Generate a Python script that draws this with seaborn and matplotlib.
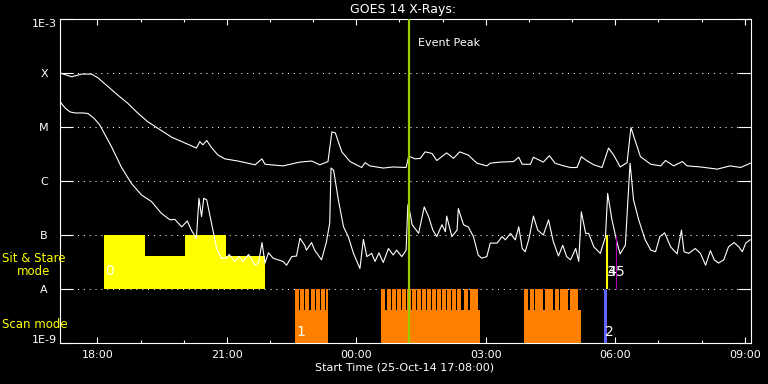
import numpy as np
import pandas as pd
import matplotlib
matplotlib.use("Agg")
import matplotlib.pyplot as plt
import seaborn as sns
from matplotlib.ticker import NullLocator

# ---------------- data (time = hours since 25-Oct-14 17:08:00) ----------------
long_t = [0.00, 0.27, 0.50, 0.73, 0.88, 1.11, 1.34, 1.57, 1.80, 2.03, 2.26, 2.59, 2.82,
          3.05, 3.16, 3.24, 3.31, 3.40, 3.51, 3.66, 3.82, 4.12, 4.52, 4.68, 4.75, 5.17,
          5.56, 5.83, 6.02, 6.21, 6.30, 6.38, 6.53, 6.72, 6.99, 7.07, 7.18, 7.49, 7.72,
          8.02, 8.08, 8.23, 8.35, 8.46, 8.62, 8.73, 8.96, 9.12, 9.26, 9.46, 9.66, 9.89,
          9.97, 10.20, 10.51, 10.63, 10.71, 10.90, 10.97, 11.20, 11.34, 11.47, 11.67,
          11.83, 11.98, 12.08, 12.22, 12.37, 12.56, 12.71, 12.83, 12.98, 13.14, 13.23,
          13.31, 13.45, 13.69, 13.92, 14.03, 14.22, 14.42, 14.53, 14.84, 15.23, 15.53,
          15.77, 16.00]
long_log10 = [-4.00, -4.07, -4.02, -4.02, -4.09, -4.25, -4.41, -4.56, -4.74, -4.90, -5.02,
              -5.19, -5.27, -5.35, -5.39, -5.27, -5.33, -5.25, -5.38, -5.52, -5.59, -5.63,
              -5.70, -5.59, -5.69, -5.72, -5.65, -5.63, -5.70, -5.64, -5.09, -5.11, -5.46,
              -5.64, -5.75, -5.66, -5.72, -5.76, -5.74, -5.75, -5.54, -5.59, -5.58, -5.46,
              -5.49, -5.62, -5.48, -5.58, -5.46, -5.52, -5.67, -5.72, -5.67, -5.65, -5.64,
              -5.56, -5.69, -5.69, -5.56, -5.65, -5.53, -5.67, -5.72, -5.75, -5.75, -5.55,
              -5.63, -5.70, -5.75, -5.39, -5.52, -5.74, -5.66, -5.01, -5.21, -5.55, -5.69,
              -5.72, -5.62, -5.72, -5.64, -5.72, -5.74, -5.78, -5.72, -5.75, -5.67]

short_t = [0.00, 0.12, 0.23, 0.35, 0.53, 0.65, 0.79, 0.92, 1.19, 1.42, 1.65, 1.89, 2.12,
           2.35, 2.55, 2.66, 2.82, 2.95, 3.05, 3.16, 3.22, 3.28, 3.33, 3.40, 3.51, 3.63,
           3.74, 3.86, 3.92, 4.05, 4.15, 4.24, 4.37, 4.52, 4.60, 4.68, 4.75, 4.83, 4.94,
           5.17, 5.25, 5.37, 5.48, 5.56, 5.67, 5.71, 5.83, 5.90, 6.06, 6.17, 6.25, 6.28,
           6.34, 6.45, 6.57, 6.68, 6.80, 6.95, 7.03, 7.11, 7.22, 7.30, 7.39, 7.49, 7.61,
           7.72, 7.80, 7.92, 8.02, 8.06, 8.12, 8.16, 8.31, 8.44, 8.54, 8.64, 8.73, 8.85,
           8.93, 8.96, 9.08, 9.20, 9.23, 9.35, 9.46, 9.58, 9.69, 9.77, 9.89, 9.97, 10.13,
           10.24, 10.32, 10.44, 10.55, 10.63, 10.71, 10.78, 10.86, 10.97, 11.07, 11.20,
           11.32, 11.43, 11.55, 11.65, 11.74, 11.83, 11.95, 12.02, 12.08, 12.18, 12.25,
           12.37, 12.52, 12.64, 12.69, 12.79, 12.91, 12.98, 13.10, 13.15, 13.21, 13.29,
           13.41, 13.56, 13.69, 13.80, 13.90, 14.01, 14.15, 14.30, 14.40, 14.46, 14.57,
           14.72, 14.84, 14.96, 15.07, 15.16, 15.26, 15.38, 15.49, 15.62, 15.73, 15.81,
           15.89, 15.99]
short_log10 = [-4.53, -4.65, -4.72, -4.74, -4.74, -4.75, -4.84, -4.96, -5.36, -5.74, -6.04,
               -6.26, -6.38, -6.60, -6.72, -6.71, -6.85, -6.74, -6.92, -7.06, -6.32, -6.66,
               -6.32, -6.35, -6.78, -7.25, -7.43, -7.43, -7.36, -7.49, -7.40, -7.49, -7.36,
               -7.56, -7.52, -7.14, -7.52, -7.33, -7.43, -7.49, -7.56, -7.40, -7.39, -7.06,
               -7.19, -7.28, -7.14, -7.28, -7.46, -7.14, -6.78, -5.76, -5.80, -6.35, -6.85,
               -7.03, -7.34, -7.62, -7.08, -7.40, -7.34, -7.49, -7.33, -7.51, -7.25, -7.37,
               -7.28, -7.40, -7.28, -6.44, -6.63, -6.81, -6.97, -6.48, -6.66, -6.91, -7.03,
               -6.81, -6.94, -6.65, -7.03, -6.91, -6.51, -6.81, -6.85, -7.03, -7.37, -7.43,
               -7.40, -7.15, -7.15, -7.03, -7.09, -6.97, -7.09, -6.85, -7.25, -7.31, -7.09,
               -6.65, -6.91, -7.00, -6.72, -7.12, -7.39, -7.19, -7.40, -7.46, -7.25, -7.49,
               -6.57, -6.97, -6.97, -7.22, -7.34, -7.03, -6.23, -6.72, -7.15, -7.35, -7.19,
               -6.48, -5.67, -6.35, -6.72, -7.09, -7.28, -7.31, -7.03, -6.96, -7.22, -7.35,
               -6.91, -7.31, -7.34, -7.25, -7.34, -7.56, -7.29, -7.46, -7.52, -7.46, -7.22,
               -7.14, -7.22, -7.31, -7.15, -7.09]

# Sit & Stare mode pointings
sit_edges = [1.01, 1.96, 2.89, 3.84, 4.76]
sit_top_log10 = [-7.00, -7.39, -7.00, -7.39]

# Scan mode blocks and raster starts
scan_start = [5.44, 7.44, 10.76]
scan_end = [6.21, 9.74, 12.08]
scan_rasters = [
    [5.44, 5.56, 5.68, 5.82, 5.93, 6.04, 6.16],
    [7.44, 7.58, 7.70, 7.81, 7.93, 8.04, 8.16, 8.28, 8.39, 8.51, 8.62, 8.74, 8.86,
     8.97, 9.09, 9.20, 9.36, 9.50, 9.60],
    [10.76, 10.88, 11.00, 11.11, 11.23, 11.34, 11.46, 11.58, 11.69, 11.81, 11.92],
]
raster_width = 0.092
scan_base_log10 = -8.39

event_peak = 8.08
marker_t = [12.62, 12.68, 12.88]
marker_colors = ["#6464ff", "#ffff00", "#b400b4"]

tick_clock = ["18:00", "21:00", "00:00", "03:00", "06:00", "09:00"]
ytick_labels = ["1E-9", "A", "B", "C", "M", "X", "1E-3"]

# ---------------- figure ----------------
FS = 8
fig = plt.figure(figsize=(7.68, 3.84), dpi=100, facecolor="black")
ax = fig.add_axes([60 / 768, 1 - 343 / 384, 690.5 / 768, 324 / 384])
ax.set_facecolor("black")
ax.set_yscale("log")

A, B = 1e-8, 1e-7
# Sit & Stare band
for i in range(len(sit_top_log10)):
    top = 10 ** sit_top_log10[i]
    ax.bar(sit_edges[i], top - A, bottom=A, width=sit_edges[i + 1] - sit_edges[i],
           align="edge", color="#ffff00", linewidth=0, zorder=1, antialiased=False)

# Scan band
base = 10 ** scan_base_log10
for s, e, rasters in zip(scan_start, scan_end, scan_rasters):
    ax.bar(s, base - 1e-9, bottom=1e-9, width=e - s, align="edge",
           color="#ff8000", linewidth=0, zorder=1, antialiased=False)
    for r in rasters:
        w = min(r + raster_width, e) - r
        ax.bar(r, A - 1e-9, bottom=1e-9, width=w, align="edge",
               color="#ff8000", linewidth=0, zorder=1, antialiased=False)

# GOES curves
long_df = pd.DataFrame({"hours": long_t, "flux": 10 ** np.array(long_log10)})
short_df = pd.DataFrame({"hours": short_t, "flux": 10 ** np.array(short_log10)})
sns.lineplot(data=long_df, x="hours", y="flux", ax=ax, color="white", lw=0.8,
             estimator=None, sort=False, zorder=3)
sns.lineplot(data=short_df, x="hours", y="flux", ax=ax, color="white", lw=0.8,
             estimator=None, sort=False, zorder=3)

# event lines
ax.axvline(event_peak, color="#99cc00", lw=1.6, zorder=4)
ax.annotate("Event Peak", (event_peak, 3.6e-4), xytext=(7, 0), textcoords="offset points",
            color="white", fontsize=FS, va="center", ha="left")
ax.vlines(marker_t[0], 1e-9, A, color=marker_colors[0], lw=2.2, zorder=4)
ax.vlines(marker_t[1], A, B, color=marker_colors[1], lw=1.5, zorder=4)
ax.vlines(marker_t[2], A, B, color=marker_colors[2], lw=0.8, zorder=4)

lab_kw = dict(color="white", fontsize=10, ha="left", va="center", zorder=5)
ax.text(sit_edges[0] + 0.03, 10 ** -7.67, "0", **lab_kw)
ax.text(scan_start[0] + 0.05, 10 ** -8.80, "1", **lab_kw)
ax.text(marker_t[0], 10 ** -8.80, "2", **lab_kw)
ax.text(marker_t[1], 10 ** -7.69, "3", **lab_kw)
ax.text(marker_t[1], 10 ** -7.69, "4", **lab_kw)
ax.text(marker_t[2] + 0.01, 10 ** -7.69, "5", **lab_kw)

# axes limits / ticks
ax.set_xlim(0, 16.0)
ax.set_ylim(1e-9, 1e-3)
start_h = 17 + 8 / 60
major_pos = [(int(c[:2]) - start_h) % 24 for c in tick_clock]
minor_pos = [(h - start_h) % 24 for h in range(24) if 0 < (h - start_h) % 24 < 16.0]
ax.set_xticks(major_pos, tick_clock)
ax.set_xticks(minor_pos, minor=True)
ax.set_yticks([10.0 ** k for k in range(-9, -2)], ytick_labels)
ax.yaxis.set_minor_locator(NullLocator())

for sp in ax.spines.values():
    sp.set_color("white")
    sp.set_linewidth(0.8)

ax.tick_params(axis="x", which="major", direction="in", length=4.5, width=0.8,
               top=True, bottom=True, colors="white", labelsize=FS, pad=5)
ax.tick_params(axis="x", which="minor", direction="in", length=2.3, width=0.8,
               top=True, bottom=True, colors="white")
ax.tick_params(axis="y", which="major", direction="in", length=9.4, width=0.8,
               left=True, right=True, colors="white", labelsize=FS, pad=11.5)
for lbl in ax.get_yticklabels():
    lbl.set_horizontalalignment("center")
ylabs = ax.get_yticklabels()
ylabs[0].set_verticalalignment("baseline")
ylabs[-1].set_verticalalignment("top")

ax.yaxis.grid(True, which="major", color="white", linestyle=(0, (1, 4.6)), linewidth=0.75)
ax.xaxis.grid(False)
ax.set_axisbelow(True)
ax.set_xlabel("")
ax.set_ylabel("")

fig.text(403 / 768, 1 - 10 / 384, "GOES 14 X-Rays:", color="white", fontsize=9,
         ha="center", va="center")
fig.text(405 / 768, 1 - 368 / 384, "Start Time (25-Oct-14 17:08:00)", color="white",
         fontsize=FS, ha="center", va="center")
fig.text(34 / 768, 1 - 265 / 384, "Sit & Stare\nmode", color="#ffff00", fontsize=8.5,
         ha="center", va="center", linespacing=1.0)
fig.text(2 / 768, 1 - 324 / 384, "Scan mode", color="#ffff00", fontsize=8.5,
         ha="left", va="center")

fig.savefig("out.png", dpi=100, facecolor="black")
